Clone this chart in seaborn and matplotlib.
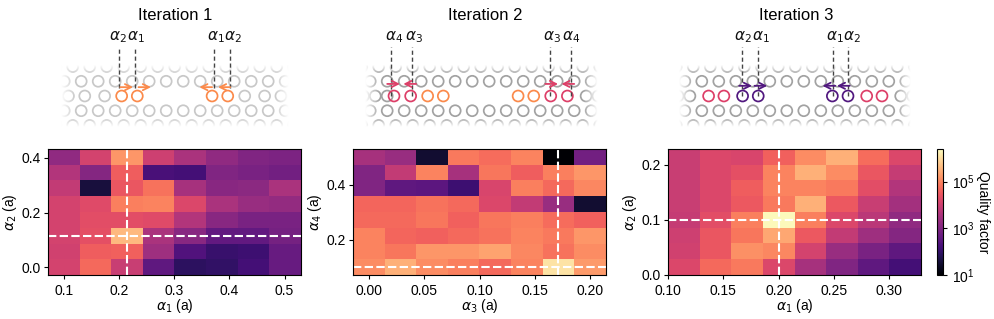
import numpy as np
import matplotlib
matplotlib.use("Agg")
import matplotlib.pyplot as plt
from matplotlib.colors import LogNorm
import seaborn as sns

plt.rcParams['font.family'] = ['Liberation Sans', 'DejaVu Sans']
plt.rcParams['mathtext.fontset'] = 'dejavusans'
plt.rcParams['font.size'] = 10

W, H = 995, 319

# log10(Q), rows listed from top of the plot to bottom
logq_1 = [
    [3.2, 4.1, 5.2, 4.0, 3.55, 3.2, 3.0, 2.95],
    [3.65, 3.05, 4.55, 2.25, 2.2, 3.0, 2.9, 2.8],
    [3.85, 1.6, 4.45, 4.8, 3.5, 3.1, 3.15, 3.55],
    [4.1, 4.25, 4.95, 5.0, 4.2, 3.55, 3.3, 3.25],
    [4.1, 4.3, 4.3, 4.25, 3.65, 3.1, 2.9, 2.9],
    [4.1, 4.35, 5.6, 3.55, 3.1, 2.6, 2.6, 2.85],
    [4.05, 4.55, 4.6, 3.4, 2.35, 2.05, 2.1, 2.65],
    [4.1, 4.7, 3.95, 2.55, 1.9, 1.95, 2.2, 2.65],
]
logq_2 = [
    [3.5, 3.3, 1.5, 4.9, 4.75, 5.0, 1.0, 2.8],
    [3.0, 3.85, 5.0, 3.5, 4.85, 4.55, 4.95, 5.2],
    [3.0, 2.55, 2.5, 2.1, 4.15, 4.95, 4.7, 5.05],
    [4.65, 4.65, 4.8, 4.7, 4.2, 3.85, 3.3, 1.5],
    [4.7, 4.7, 4.85, 4.6, 4.85, 4.95, 4.75, 4.6],
    [5.0, 4.65, 4.6, 4.7, 4.8, 5.0, 4.9, 5.2],
    [5.0, 4.85, 5.2, 5.2, 5.35, 5.05, 4.8, 5.1],
    [5.1, 5.5, 5.1, 4.95, 4.7, 5.0, 6.1, 5.25],
]
logq_3 = [
    [3.95, 4.2, 4.15, 4.6, 5.1, 5.5, 4.75, 4.2],
    [3.95, 4.2, 4.35, 5.0, 5.5, 5.1, 4.45, 3.9],
    [3.95, 4.2, 4.55, 5.0, 5.0, 4.9, 4.3, 3.65],
    [3.95, 4.2, 4.5, 4.9, 5.5, 4.5, 3.95, 3.45],
    [3.9, 4.3, 4.95, 6.35, 4.95, 4.2, 3.75, 3.2],
    [4.0, 4.45, 4.85, 5.4, 4.5, 3.85, 3.4, 3.05],
    [4.05, 4.45, 5.15, 5.05, 4.1, 3.3, 2.9, 2.55],
    [4.2, 4.7, 4.9, 4.2, 3.5, 3.0, 2.55, 2.2],
]
titles = ['Iteration 1', 'Iteration 2', 'Iteration 3']
xlabels = [r'$\alpha_1$ (a)', r'$\alpha_3$ (a)', r'$\alpha_1$ (a)']
ylabels = [r'$\alpha_2$ (a)', r'$\alpha_4$ (a)', r'$\alpha_2$ (a)']
xfirst = [0.1, 0.0, 0.1143]
xstep = [0.0573, 0.02857, 0.02857]
yfirst = [0.0, 0.0995, 0.0143]
ystep = [0.0577, 0.0575, 0.02857]
xticks = [[0.1, 0.2, 0.3, 0.4, 0.5], [0, 0.05, 0.10, 0.15, 0.20], [0.10, 0.15, 0.20, 0.25, 0.30]]
xticklabels = [['0.1', '0.2', '0.3', '0.4', '0.5'],
               ['0.00', '0.05', '0.10', '0.15', '0.20'],
               ['0.10', '0.15', '0.20', '0.25', '0.30']]
yticks = [[0.0, 0.2, 0.4], [0.2, 0.4], [0.0, 0.1, 0.2]]
yticklabels = [['0.0', '0.2', '0.4'], ['0.2', '0.4'], ['0.0', '0.1', '0.2']]
best_x = [0.215, 0.171, 0.2]
best_y = [0.115, 0.1, 0.1]

# Schematic: hole offsets from the cavity centre, in lattice constants
moved_new = [[2.2, 3.12], [4.12, 5.1], [2.18, 3.1]]
moved_prev = [[], [2.2, 3.12], [4.2, 5.1]]
static_holes = [[4.12, 5.29, 6.25, 7.25], [6.2, 6.9], [6.2, 6.9]]
hole_new_color = ['#fb8a4b', '#dd3f68', '#51187f']
hole_prev_color = [None, '#fb8a4b', '#dd3f68']
lattice_gray = ['#c8c8c8', '#a2a2a2', '#a2a2a2']
guide_x = [[-3.28, -2.34, 2.33, 3.27], [-5.3, -4.04, 4.06, 5.32], [-3.13, -2.18, 2.21, 3.1]]
guide_bottom = [0.5, 0.0, 0.0]
label_x = [[-3.33, -2.28, 2.43, 3.43], [-5.1, -3.9, 4.2, 5.3], [-3.08, -2.0, 2.33, 3.3]]
label_text = [[r'$\alpha_2$', r'$\alpha_1$', r'$\alpha_1$', r'$\alpha_2$'],
              [r'$\alpha_4$', r'$\alpha_3$', r'$\alpha_3$', r'$\alpha_4$'],
              [r'$\alpha_2$', r'$\alpha_1$', r'$\alpha_1$', r'$\alpha_2$']]
arrow_from = [[-3.2, -2.13, 2.2, 3.27], [-5.5, -3.8, 3.8, 5.5], [-3.3, -2.4, 2.35, 3.2]]
arrow_to = [[-2.45, -1.4, 1.45, 2.55], [-4.75, -4.55, 4.55, 4.75], [-2.55, -1.65, 1.6, 2.45]]
arrow_row = [0.52, 0.71, 0.6]

heat_boxes = [(48, 301), (353, 606), (668, 921)]
heat_top, heat_bottom = 149, 275
centers_px = [174.7, 480.7, 795.3]
title_px = [175, 485, 796]
half_width_px = [114, 116, 116]
A_PX = 17.0
ROW_H = np.sqrt(3) / 2
ROW_Y_PX = 96.0

fig = plt.figure(figsize=(W / 100, H / 100), dpi=100)

def px_axes(left, right, top, bottom):
    return fig.add_axes([left / W, 1 - bottom / H, (right - left) / W, (bottom - top) / H])

norm = LogNorm(vmin=10, vmax=10 ** 6.4)
cax = px_axes(937, 943, heat_top, heat_bottom)

for i, data in enumerate([logq_1, logq_2, logq_3]):
    q = 10 ** np.array(data)
    n_rows, n_cols = q.shape
    ax = px_axes(heat_boxes[i][0], heat_boxes[i][1], heat_top, heat_bottom)
    sns.heatmap(q, ax=ax, cmap='magma', norm=norm, cbar=i == 2,
                cbar_ax=cax if i == 2 else None,
                xticklabels=False, yticklabels=False)
    to_x = lambda v: (np.asarray(v) - xfirst[i]) / xstep[i] + 0.5
    to_y = lambda v: n_rows - 0.5 - (np.asarray(v) - yfirst[i]) / ystep[i]
    ax.set_xticks(to_x(xticks[i]), xticklabels[i])
    ax.set_yticks(to_y(yticks[i]), yticklabels[i])
    ax.tick_params(axis='both', labelsize=10, length=3, width=0.8, labelrotation=0)
    ax.tick_params(axis='y', pad=2)
    ax.set_xlabel(xlabels[i], fontsize=10, labelpad=-0.5)
    ax.set_ylabel(ylabels[i], fontsize=10, labelpad=2)
    for s in ax.spines.values():
        s.set_visible(True)
        s.set_linewidth(0.8)
    ax.axvline(to_x(best_x[i]), color='white', ls='--', lw=1.5, dashes=(4, 1.6))
    ax.axhline(to_y(best_y[i]), color='white', ls='--', lw=1.5, dashes=(4, 1.6))

    # lattice schematic
    cx = centers_px[i]
    hw = half_width_px[i]
    sk = px_axes(cx - hw - 8, cx + hw + 8, 28, 134)
    sk.set_xlim(-(hw + 8) / A_PX, (hw + 8) / A_PX)
    sk.set_ylim((ROW_Y_PX - 134) / A_PX, (ROW_Y_PX - 28) / A_PX)
    sk.axis('off')
    hole_style = dict(s=62, facecolors='none', linewidths=1.25, clip_on=True)
    for row in (-2, -1, 1, 2):
        off = 0.5 if row % 2 else 0.0
        xs = np.arange(-9, 10) + off
        sk.scatter(xs, np.full(xs.shape, row * ROW_H), edgecolors=lattice_gray[i], zorder=1, **hole_style)
    st = np.array(static_holes[i])
    st_all = np.concatenate([st, -st] + ([np.array([-5.5])] if i == 1 else []))
    sk.scatter(st_all, np.zeros_like(st_all), edgecolors=lattice_gray[i], zorder=1, **hole_style)

    # white fade towards the edges of the schematic
    nx, ny = 240, 110
    gx = np.linspace(-(hw + 8), hw + 8, nx)
    gy = np.linspace(ROW_Y_PX - 28, ROW_Y_PX - 134, ny)
    fade_x = np.clip((np.abs(gx) - (hw - 14)) / 14, 0, 1)
    fade_y = np.clip((np.abs(gy) - 22) / 9, 0, 1)
    alpha = np.maximum.outer(fade_y, fade_x)
    rgba = np.ones((ny, nx, 4))
    rgba[..., 3] = alpha
    sk.imshow(rgba, extent=[sk.get_xlim()[0], sk.get_xlim()[1], sk.get_ylim()[0], sk.get_ylim()[1]],
              aspect='auto', zorder=2, interpolation='bilinear')

    if moved_prev[i]:
        p = np.array(moved_prev[i])
        p = np.concatenate([p, -p])
        sk.scatter(p, np.zeros_like(p), edgecolors=hole_prev_color[i], zorder=3, **hole_style)
    p = np.array(moved_new[i])
    p = np.concatenate([p, -p])
    sk.scatter(p, np.zeros_like(p), edgecolors=hole_new_color[i], zorder=3, **hole_style)

    for gxv in guide_x[i]:
        sk.plot([gxv, gxv], [guide_bottom[i], 2.87], color='#444444', lw=1.0,
                dashes=(3, 2), zorder=4)
    for lx, txt in zip(label_x[i], label_text[i]):
        sk.text(lx, 3.47, txt, ha='center', va='center', fontsize=11, color='#111111',
                family='DejaVu Sans', zorder=5)
    for a, b in zip(arrow_from[i], arrow_to[i]):
        sk.annotate('', xy=(b, arrow_row[i]), xytext=(a, arrow_row[i]), zorder=5,
                    arrowprops=dict(arrowstyle='->', color=hole_new_color[i], lw=1.3,
                                    shrinkA=0, shrinkB=0, mutation_scale=11))
    fig.text(title_px[i] / W, 1 - 15 / H, titles[i], ha='center', va='center', fontsize=12)

cbar = ax.collections[0].colorbar
cbar.set_ticks([1e1, 1e3, 1e5], labels=[r'$\mathdefault{10^{1}}$', r'$\mathdefault{10^{3}}$', r'$\mathdefault{10^{5}}$'])
cbar.minorticks_off()
cbar.ax.tick_params(labelsize=10, length=3, width=0.8)
cbar.set_label('Quality factor', rotation=270, fontsize=10, labelpad=11)
cbar.outline.set_visible(True)
cbar.outline.set_linewidth(0.8)

fig.savefig('out.png', dpi=100)
